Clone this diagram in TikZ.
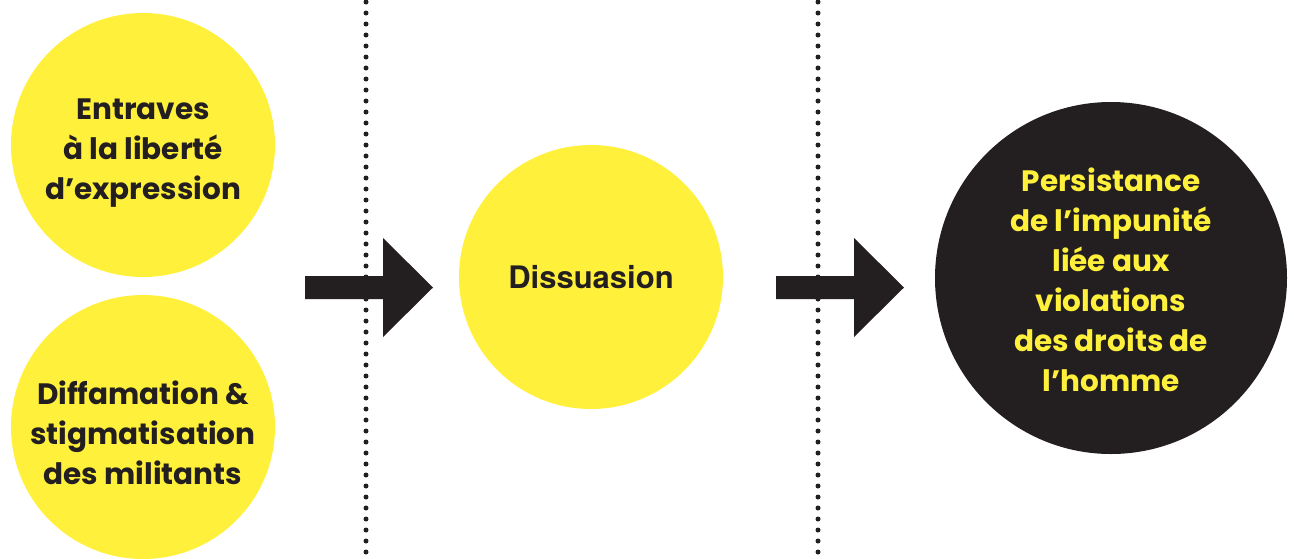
\documentclass[tikz,border=0pt]{standalone}
\usepackage{fontspec}
\setmainfont{Poppins}
\newfontfamily\herosfont{TeX Gyre Heros}
\usetikzlibrary{positioning}
\definecolor{FlyerYellow}{RGB}{255, 240, 60}
\definecolor{FlyerBlack}{RGB}{35, 31, 32}

\begin{document}
\begin{tikzpicture}[x=1pt, y=-1pt,
    bubble/.style={circle, fill=FlyerYellow, minimum size=264pt, inner sep=0pt},
    darkbubble/.style={bubble, fill=FlyerBlack, minimum size=352pt},
    bubbletext/.style={align=center, text=FlyerBlack,
      font=\bfseries\fontsize{29.5}{40}\selectfont},
    darktext/.style={bubbletext, text=FlyerYellow},
    dotline/.style={FlyerBlack, line width=5pt, line cap=round,
      dash pattern=on 0pt off 11pt}
  ]
  \useasboundingbox (0,0) rectangle (1294,558);
  % separators
  \draw[dotline] (366,2) -- (366,558);
  \draw[dotline] (818,2) -- (818,558);
  % causes
  \node[bubble, label={[bubbletext, yshift=-8pt]center:{Entraves\\à la liberté\\d’expression}}]
       (entraves) at (143,145) {};
  \node[bubble, label={[bubbletext, yshift=-6pt]center:{Diffamation \&\\stigmatisation\\des militants}}]
       (diffamation) at (143,427) {};
  % effect
  \node[bubble, label={[bubbletext, font=\herosfont\bfseries\fontsize{31}{40}\selectfont]center:Dissuasion}]
       (dissuasion) at (591,277) {};
  \node[darkbubble, label={[darktext, yshift=-2pt]center:{Persistance\\de l’impunité\\liée aux\\violations\\des droits de\\l’homme}}]
       (impunite) at (1111,278) {};
  % block arrows
  \foreach \ax in {305,776}
    \fill[FlyerBlack] (\ax,276) -- ++(78,0) -- ++(0,-38) -- ++(50,49.5)
         -- ++(-50,49.5) -- ++(0,-38) -- ++(-78,0) -- cycle;
\end{tikzpicture}
\end{document}
